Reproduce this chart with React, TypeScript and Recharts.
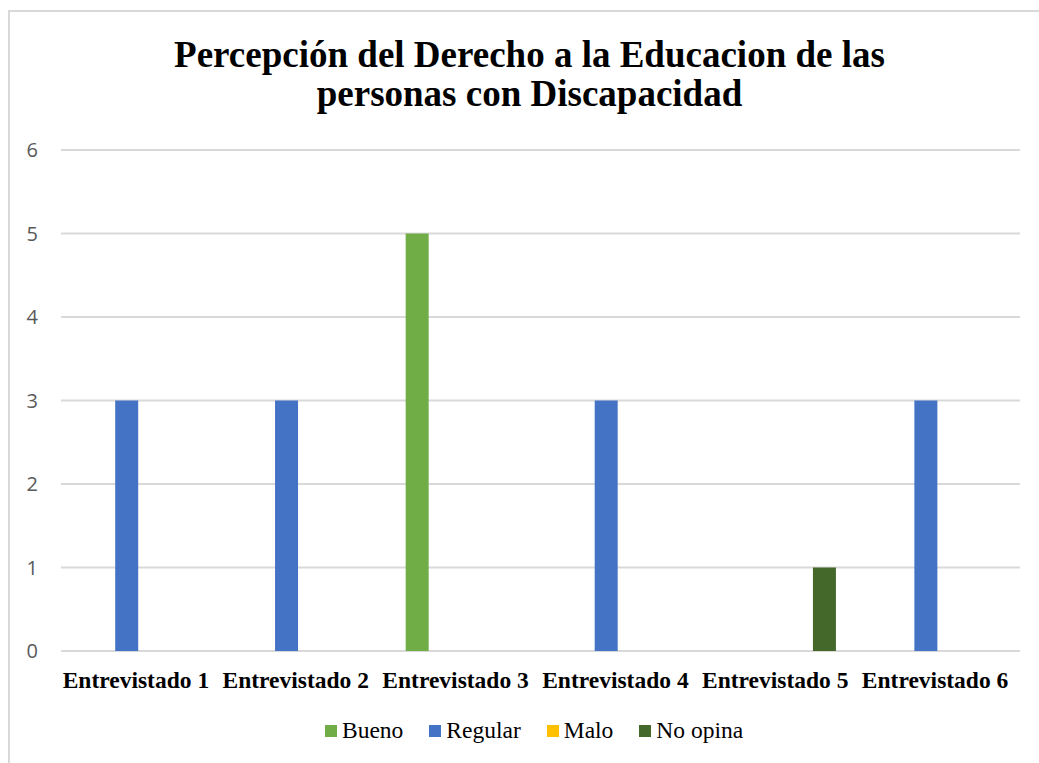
import { BarChart, Bar, XAxis, YAxis, CartesianGrid, Legend } from 'recharts'

const entrevistados = ['Entrevistado 1', 'Entrevistado 2', 'Entrevistado 3', 'Entrevistado 4', 'Entrevistado 5', 'Entrevistado 6']
const bueno = [0, 0, 5, 0, 0, 0]
const regular = [3, 3, 0, 3, 0, 3]
const malo = [0, 0, 0, 0, 0, 0]
const noOpina = [0, 0, 0, 0, 1, 0]
const yTicks = [0, 1, 2, 3, 4, 5, 6]

const series = [
  { key: 'Bueno', color: '#70AD47', values: bueno },
  { key: 'Regular', color: '#4472C4', values: regular },
  { key: 'Malo', color: '#FFC000', values: malo },
  { key: 'No opina', color: '#43682A', values: noOpina },
]
const seriesOrder = series.map(s => s.key)

const data = entrevistados.map((name, i) => {
  const row: Record<string, string | number> = { name }
  series.forEach(s => {
    row[s.key] = s.values[i]
  })
  return row
})

const serif = '"Liberation Serif", "Times New Roman", serif'

function LegendContent({ payload }: any) {
  // keep the series order, recharts sorts by name otherwise
  const items = [...(payload || [])].sort(
    (a: any, b: any) => seriesOrder.indexOf(a.value) - seriesOrder.indexOf(b.value)
  )
  return (
    <div
      style={{
        display: 'flex',
        alignItems: 'center',
        height: 30,
        paddingLeft: 325,
        fontFamily: serif,
        fontSize: 23.5,
        color: '#000',
      }}
    >
      {items.map((entry: any) => (
        <div key={entry.value} style={{ display: 'flex', alignItems: 'center', marginRight: 26 }}>
          <span style={{ width: 12, height: 12, background: entry.color, marginRight: 5, display: 'inline-block' }} />
          <span style={{ lineHeight: 1, fontFamily: serif }}>{entry.value}</span>
        </div>
      ))}
    </div>
  )
}

export default function App() {
  return (
    <div style={{ position: 'absolute', left: 0, top: 0, width: 1039, height: 763, overflow: 'hidden', background: '#fff' }}>
      <div
        style={{
          position: 'absolute',
          left: 8,
          top: 10,
          width: 1100,
          height: 800,
          borderLeft: '2px solid #d9d9d9',
          borderTop: '2px solid #d9d9d9',
        }}
      />
      <div
        style={{
          position: 'absolute',
          left: 20,
          top: 36,
          width: 1019,
          textAlign: 'center',
          fontFamily: serif,
          fontWeight: 'bold',
          fontSize: 37,
          lineHeight: '38.5px',
          color: '#000',
        }}
      >
        Percepción del Derecho a la Educacion de las
        <br />
        personas con Discapacidad
      </div>
      <div style={{ position: 'absolute', left: 0, top: 0 }}>
        <BarChart
          width={1039}
          height={763}
          data={data}
          margin={{ top: 150, right: 19, left: 0, bottom: 17 }}
          barSize={23}
          barGap={6.2}
        >
          <CartesianGrid vertical={false} stroke="#d9d9d9" strokeWidth={2} />
          <XAxis
            dataKey="name"
            height={65}
            axisLine={false}
            tickLine={false}
            tickSize={6}
            tickMargin={14}
            interval={0}
            tick={{ fill: '#000', fontSize: 23.5, fontWeight: 'bold', fontFamily: serif, dx: -5 }}
          />
          <YAxis
            width={61}
            domain={[0, 6]}
            ticks={yTicks}
            axisLine={false}
            tickLine={false}
            tickSize={6}
            tickMargin={17}
            tick={{ fill: '#595959', fontSize: 20, fontFamily: '"Open Sans", sans-serif' }}
          />
          <Legend verticalAlign="bottom" content={<LegendContent />} wrapperStyle={{ left: 0, width: 1039 }} />
          {series.map(s => (
            <Bar key={s.key} dataKey={s.key} fill={s.color} isAnimationActive={false} />
          ))}
        </BarChart>
      </div>
    </div>
  )
}
